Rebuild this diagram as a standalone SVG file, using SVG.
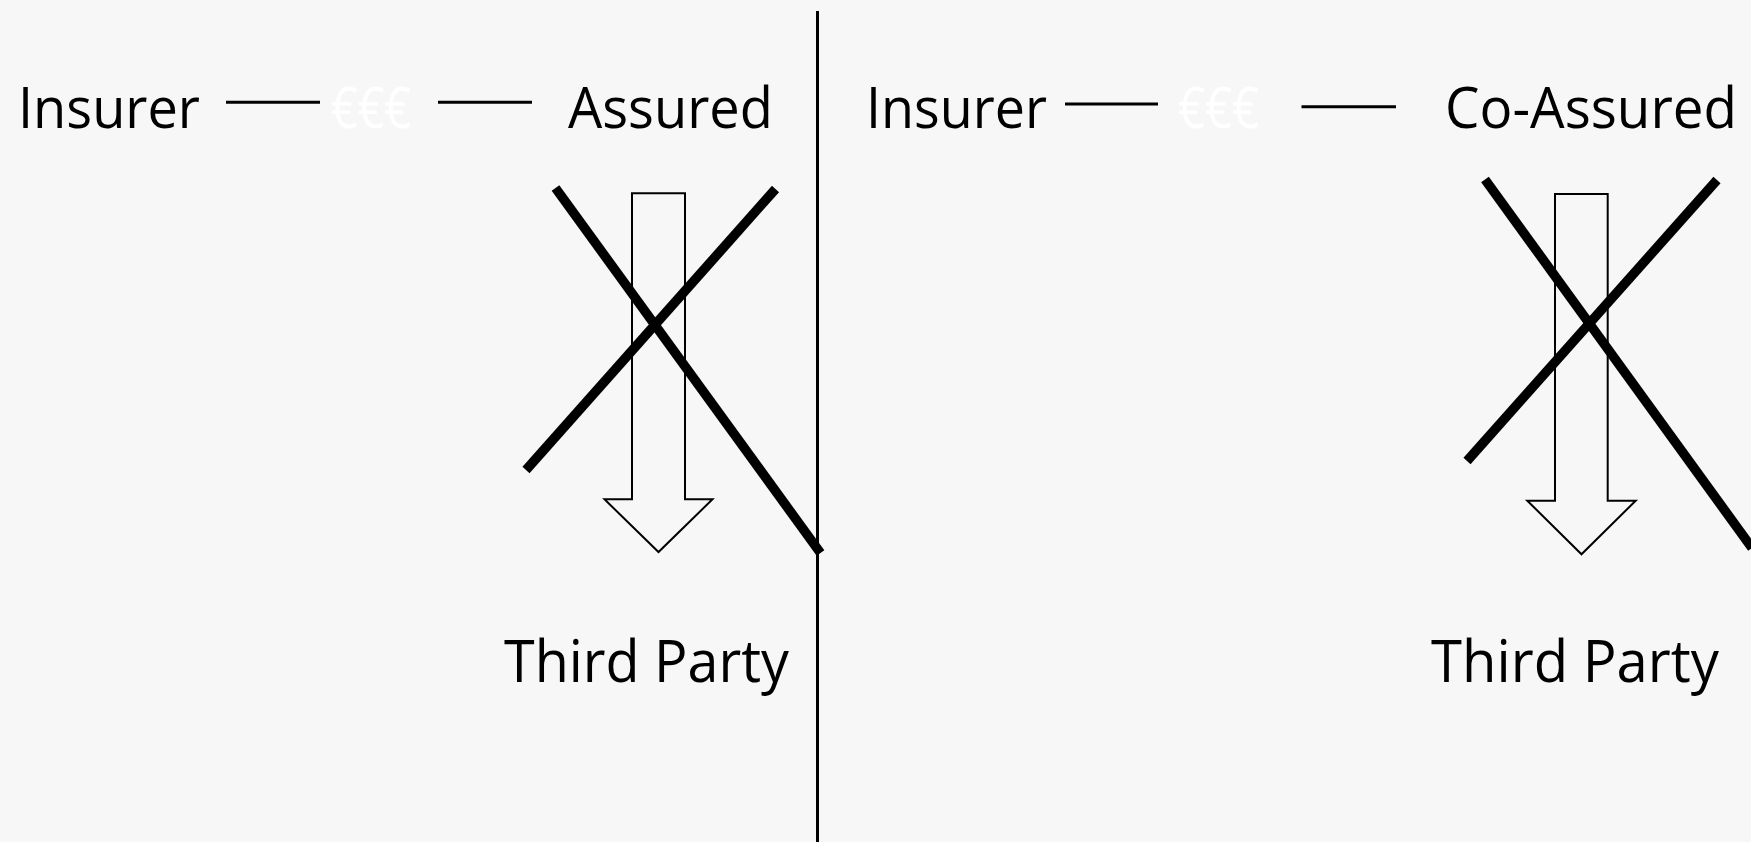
<svg xmlns="http://www.w3.org/2000/svg" width="1751" height="842" viewBox="0 0 1751 842">
<style>
.t{font-family:"Open Sans","Noto Sans",sans-serif;font-size:57px;fill:#000}
.tp{font-size:59px}
.eur{fill:#ffffff}
.link{stroke:#000;stroke-width:3;fill:none}
.cross{stroke:#000;stroke-width:9.5;stroke-linecap:butt;fill:none}
.arrow{fill:#f7f7f7;stroke:#000;stroke-width:2;stroke-linejoin:miter}
</style>
<rect width="1751" height="842" fill="#f7f7f7"/>
<g id="divider"><line x1="817.5" y1="11" x2="817.5" y2="842" stroke="#000" stroke-width="3"/></g>
<g id="insurer-left"><text class="t" x="18" y="128" textLength="182" lengthAdjust="spacingAndGlyphs">Insurer</text></g>
<g id="eur-left"><text class="t eur" x="331" y="128" textLength="80" lengthAdjust="spacingAndGlyphs">€€€</text></g>
<g id="assured"><text class="t" x="568" y="128" textLength="205" lengthAdjust="spacingAndGlyphs">Assured</text></g>
<g id="insurer-right"><text class="t" x="866" y="128" textLength="181" lengthAdjust="spacingAndGlyphs">Insurer</text></g>
<g id="eur-right"><text class="t eur" x="1178" y="128" textLength="81" lengthAdjust="spacingAndGlyphs">€€€</text></g>
<g id="co-assured"><text class="t" x="1445" y="128" textLength="292" lengthAdjust="spacingAndGlyphs">Co-Assured</text></g>
<g id="third-party-left"><text class="t tp" x="504" y="682" textLength="285" lengthAdjust="spacingAndGlyphs">Third Party</text></g>
<g id="third-party-right"><text class="t tp" x="1431" y="682" textLength="288" lengthAdjust="spacingAndGlyphs">Third Party</text></g>
<g id="connectors">
<line class="link" x1="226" y1="102.3" x2="320" y2="102.3"/>
<line class="link" x1="438" y1="102.3" x2="532" y2="102.3"/>
<line class="link" x1="1065" y1="104" x2="1158" y2="104"/>
<line class="link" x1="1301.5" y1="106.7" x2="1396" y2="106.7"/>
</g>
<g id="arrow-left"><path class="arrow" d="M632,193.3 H685 V499.3 H712.5 L658.5,552 L604.5,499.3 H632 Z"/></g>
<g id="arrow-right"><path class="arrow" d="M1555,194 H1607.7 V500.7 H1635.7 L1581.5,554.3 L1527.3,500.7 H1555 Z"/></g>
<g id="cross-left">
<line class="cross" x1="555.5" y1="188" x2="820.5" y2="553"/>
<line class="cross" x1="775.5" y1="189" x2="526" y2="470"/>
</g>
<g id="cross-right">
<line class="cross" x1="1485" y1="179.5" x2="1752" y2="548"/>
<line class="cross" x1="1717" y1="180" x2="1467" y2="461"/>
</g>
</svg>
